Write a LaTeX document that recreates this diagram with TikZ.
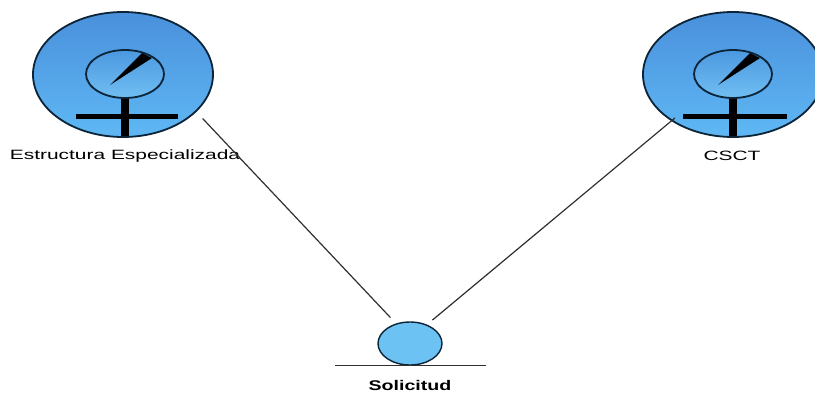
\documentclass[tikz,border=0pt]{standalone}
\usepackage{fontspec}
\setmainfont{Liberation Sans}
\usetikzlibrary{shapes.geometric}
\definecolor{inkdark}{HTML}{0C2438}
\definecolor{topblue}{HTML}{4A90DC}
\definecolor{lowblue}{HTML}{5FB8F4}
\definecolor{bulbtop}{HTML}{4C98E0}
\definecolor{bulblow}{HTML}{70BEF2}
\definecolor{smallblue}{HTML}{6CC2F2}
\definecolor{linegrey}{HTML}{303030}
\tikzset{
  worker/.style={ellipse,draw=inkdark,line width=1.8pt,minimum width=180pt,minimum height=125pt,inner sep=0pt,top color=topblue,bottom color=lowblue},
  dial/.style={ellipse,draw=inkdark,line width=1.8pt,minimum width=78pt,minimum height=48pt,inner sep=0pt,top color=bulbtop,bottom color=bulblow},
  entity/.style={ellipse,draw=inkdark,line width=1.4pt,minimum width=64pt,minimum height=43pt,inner sep=0pt,fill=smallblue},
  barbone/.style={draw=black,line width=5pt},
  stembone/.style={draw=black,line width=8.5pt},
  needle/.style={fill=black,draw=none},
  link/.style={draw=linegrey,line width=1.2pt},
  ground/.style={draw=linegrey,line width=1.3pt},
  caption/.style={inner sep=0pt,text=black,font=\fontsize{13.5}{15}\selectfont},
}
\begin{document}
\begin{tikzpicture}[x=1pt,y=-1pt]
\useasboundingbox (0,0) rectangle (815,392);
\fill[white] (0,0) rectangle (815,392);
% left figure
\node[worker] (estr) at (123,74.5) {};
\node[dial] (estrdial) at (125,74) {};
\draw[stembone] (estrdial.south) -- (125,136);
\draw[barbone] (76,116) -- (178,116);
\fill[needle] (110,85) -- (142,53) -- (152,58) -- cycle;
\node[caption,xscale=1.55,transform shape] (estrlabel) at (125,156) {Estructura Especializada};
% right figure
\node[worker] (csct) at (733,74.5) {};
\node[dial] (csctdial) at (733,74) {};
\draw[stembone] (csctdial.south) -- (733,136);
\draw[barbone] (683,116) -- (787,116);
\fill[needle] (718,85) -- (750,53) -- (760,58) -- cycle;
\node[caption,xscale=1.55,transform shape] (csctlabel) at (732,156) {CSCT};
% bottom
\node[entity] (sol) at (410,343.5) {};
\coordinate (gl) at (335,365.5);
\coordinate (gr) at (486,365.5);
\draw[ground] (gl) -- (gr);
\node[caption,font=\fontsize{14}{16}\selectfont\bfseries,xscale=1.4,transform shape] (sollabel) at (410,385) {Solicitud};
% connectors
\draw[link,shorten <=9pt,shorten >=8pt] (estr.-27) -- (sol.125);
\draw[link,shorten <=-5pt,shorten >=7pt] (csct.217) -- (sol.48);
\end{tikzpicture}
\end{document}
